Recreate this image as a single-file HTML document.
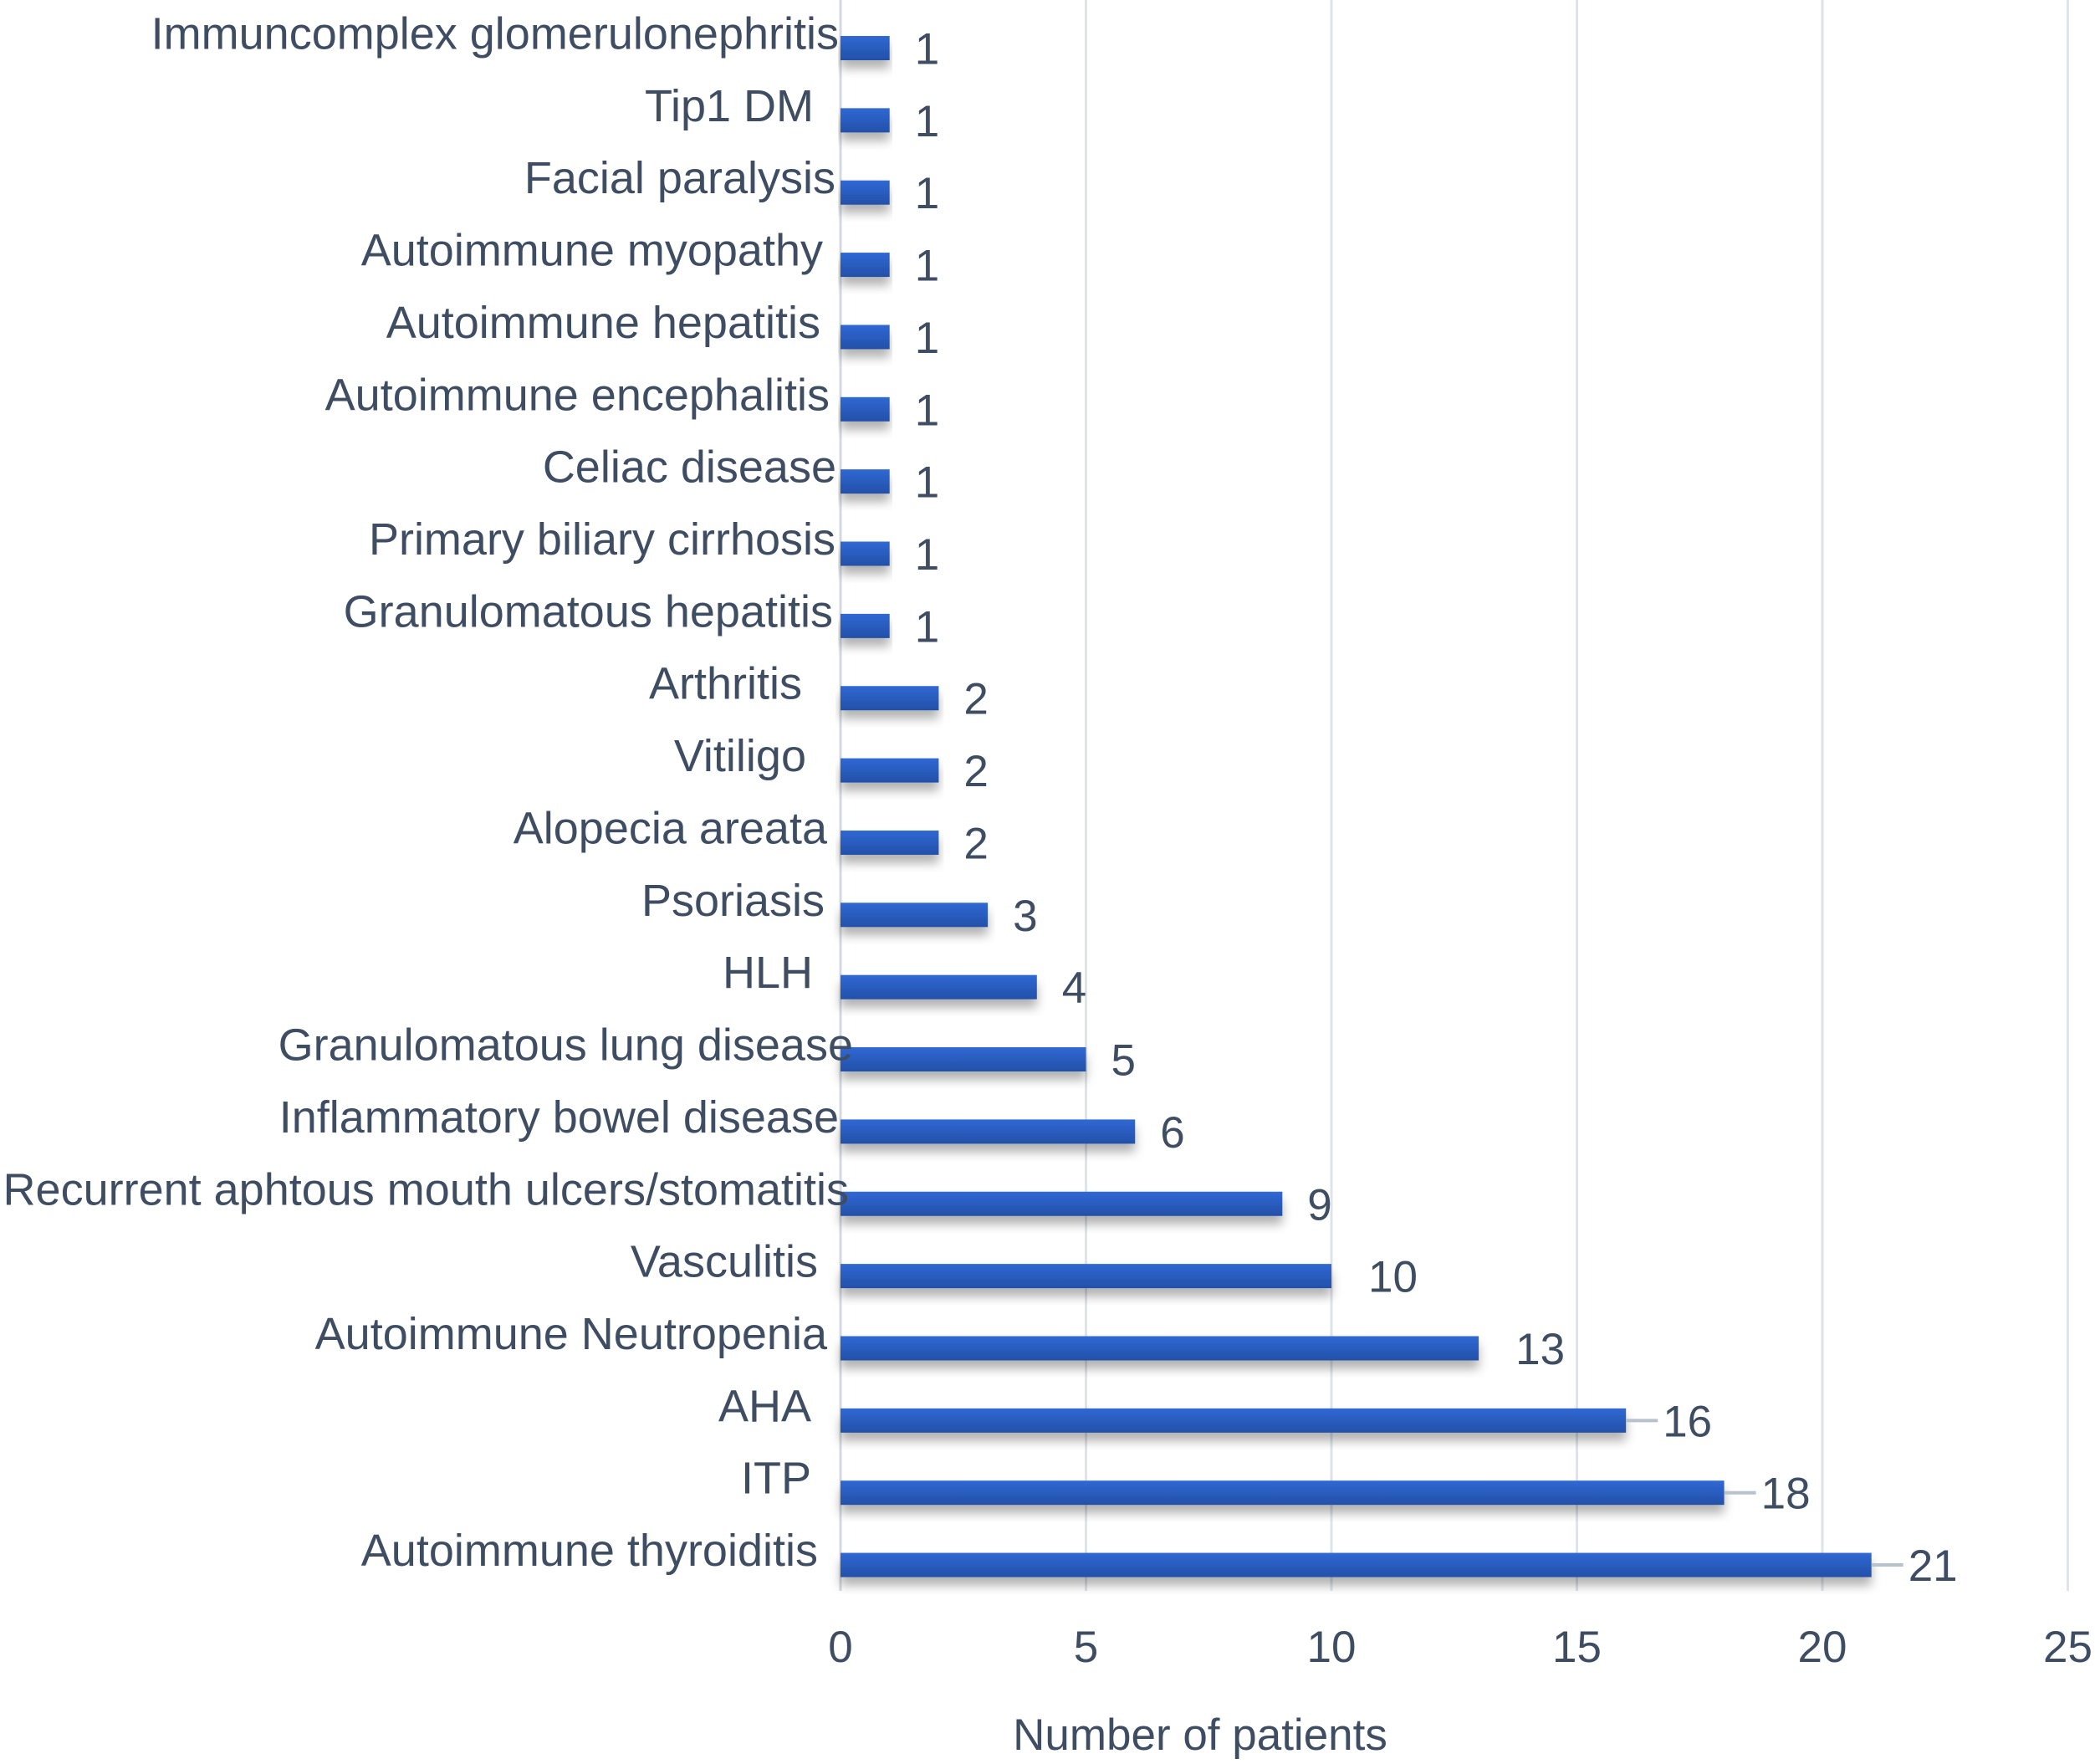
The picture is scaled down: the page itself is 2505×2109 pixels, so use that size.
<!DOCTYPE html>
<html><head><meta charset="utf-8"><style>
html,body{margin:0;padding:0;background:#fff;}
svg text{font-family:"Liberation Sans",Arial,sans-serif;fill:#3f4d63;}
</style></head><body>
<svg id="chart" width="2505" height="2104" viewBox="0 0 2505 2104" xmlns="http://www.w3.org/2000/svg">
<defs>
<linearGradient id="bg" x1="0" y1="0" x2="0" y2="1">
<stop offset="0" stop-color="#3068d4"/><stop offset="1" stop-color="#2350a8"/>
</linearGradient>
<filter id="sh" x="-5%" y="-30%" width="110%" height="200%">
<feDropShadow dx="0" dy="10" stdDeviation="6" flood-color="#000" flood-opacity="0.3"/>
</filter>
</defs>
<g id="grid"></g>
<g id="bars"></g>
<g id="labels"></g>
<g id="vals"></g>
<g id="ticks"></g>
<text x="1435" y="2092" font-size="53" text-anchor="middle">Number of patients</text>
</svg>
<script>
const categories = ["Immuncomplex glomerulonephritis","Tip1 DM","Facial paralysis","Autoimmune myopathy","Autoimmune hepatitis","Autoimmune encephalitis","Celiac disease","Primary biliary cirrhosis","Granulomatous hepatitis","Arthritis","Vitiligo","Alopecia areata","Psoriasis","HLH","Granulomatous lung disease","Inflammatory bowel disease","Recurrent aphtous mouth ulcers/stomatitis","Vasculitis","Autoimmune Neutropenia","AHA","ITP","Autoimmune thyroiditis"];
const values = [1,1,1,1,1,1,1,1,1,2,2,2,3,4,5,6,9,10,13,16,18,21];
const tickValues = [0,5,10,15,20,25];
const labelRight = [1003,973,999,984,981,992,1000,999,996,959,964,989,986,972,1020,1003,1015,978,989,970,970,978];

const NS="http://www.w3.org/2000/svg";
const X0=1005, PX=58.7, Y0=57.5, STEP=86.36, BH=29;
const xs=v=>X0+v*PX;
const yc=i=>Y0+i*STEP;
function mk(tag,attrs,parent){const e=document.createElementNS(NS,tag);for(const k in attrs)e.setAttribute(k,attrs[k]);parent.appendChild(e);return e;}
const grid=document.getElementById('grid'),bars=document.getElementById('bars'),labels=document.getElementById('labels'),vals=document.getElementById('vals'),ticks=document.getElementById('ticks');
tickValues.forEach(t=>{
  const l=mk('line',{x1:xs(t),x2:xs(t),y1:0,y2:1902,stroke:t===0?'#d3d9e0':'#dfe4ea','stroke-width':3},grid);
  
  
  const tx=mk('text',{x:xs(t),y:1987,'font-size':53,'text-anchor':'middle'},ticks);
  tx.textContent=t;
  
  
});
categories.forEach((c,i)=>{
  const v=values[i], y=yc(i);
  const r=mk('rect',{x:X0,y:y-BH/2,width:v*PX,height:BH,fill:'url(#bg)',filter:'url(#sh)'},bars);
  
  
  const rx=labelRight[i];
  const t=mk('text',{x:rx,y:y+1,'font-size':54,'text-anchor':'end'},labels);
  t.textContent=c;
  
  
  const vx=xs(v)+(v>=10?44:30);
  if(v>=16){
    const ld=mk('line',{x1:xs(v),x2:vx-6,y1:y,y2:y,stroke:'#b8c2cc','stroke-width':4},vals);
    
    
  }
  const vt=mk('text',{x:vx,y:y+19,'font-size':53},vals);
  vt.textContent=v;
  
  
});
</script>
</body></html>
